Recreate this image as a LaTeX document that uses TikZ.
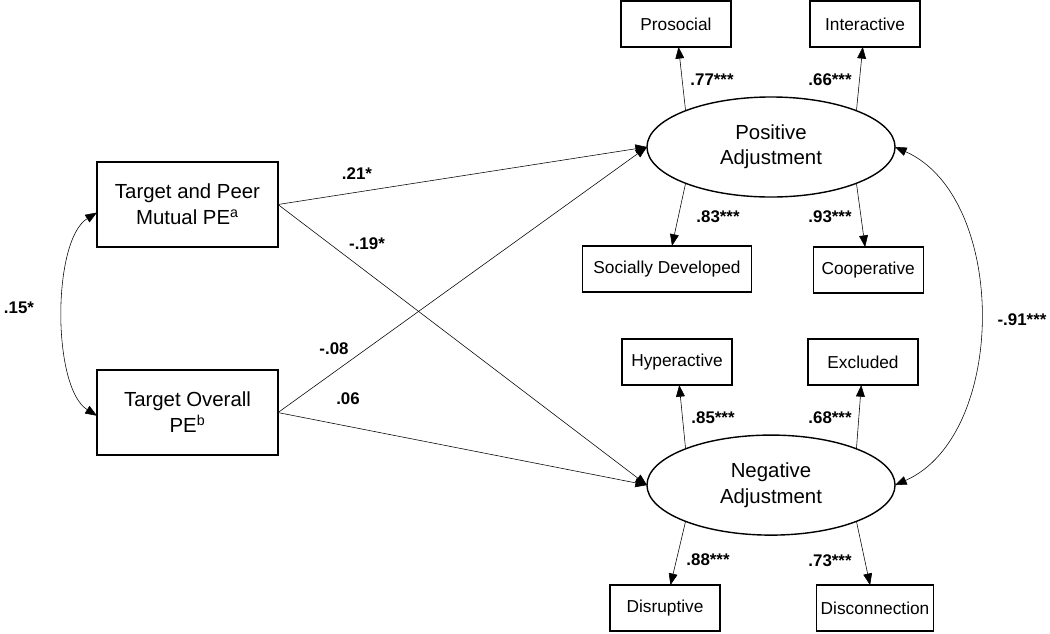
\documentclass[tikz,border=0pt]{standalone}
\usepackage{fontspec}
\setmainfont{Liberation Sans}
\usetikzlibrary{
  arrows.meta,      % filled triangle tips
  positioning,      % above=of, below=of
  shapes.geometric  % ellipses for the latent factors
}
\tikzset{
  node distance=1.25cm and 2cm,
  every node/.style = {
    rectangle,
    draw,
    line width=1pt,
    align=center,
    outer sep = 0pt,
    inner sep = 3pt
  },
  observed/.style = {minimum width=4.525cm, minimum height=2.125cm,
    font=\fontsize{14.5}{18.5}\selectfont},
  latent/.style = {ellipse, minimum width=6.2cm, minimum height=2.5cm,
    inner sep=0pt, font=\fontsize{14.5}{18}\selectfont},
  indicator/.style = {minimum width=2.75cm, minimum height=1.15cm,
    font=\fontsize{12.3}{14}\selectfont},
  coef/.style = {draw=none, inner sep=0pt,
    font=\bfseries\fontsize{12}{14}\selectfont},
  line width=0.75pt,
  ->,        % arrows for all
  >={Triangle[length=2.9mm,width=2.2mm]}
}

\begin{document}
\begin{tikzpicture}[x=0.025cm, y=-0.025cm]
  \useasboundingbox (0,0) rectangle (1050,633);

  %% predictors
  \node[observed] (TPM) at (187.5,204.5)   {Target and Peer\\Mutual PE\textsuperscript{a}};
  \node[observed] (TO)  [below=3.075cm of TPM] {Target Overall\\PE\textsuperscript{b}};

  %% latent factors
  \node[latent] (PA) at (771,147)      {Positive\\Adjustment};
  \node[latent] (NA) [below=5.95cm of PA] {Negative\\Adjustment};

  %% indicators
  \node[indicator] (Pro) [above=1.25cm of PA, xshift=-2.375cm] {Prosocial};
  \node[indicator] (Int) [above=1.25cm of PA, xshift=2.35cm]   {Interactive};
  \node[indicator, minimum width=4.225cm] (Soc) [below=1.22cm of PA, xshift=-2.6cm] {Socially Developed};
  \node[indicator] (Coo) [below=1.25cm of PA, xshift=2.43cm]   {Cooperative};

  \node[indicator] (Hyp) [above=1.25cm of NA, xshift=-2.35cm] {Hyperactive};
  \node[indicator] (Exc) [above=1.25cm of NA, xshift=2.3cm]   {Excluded};
  \node[indicator] (Dis) [below=1.25cm of NA, xshift=-2.65cm] {Disruptive};
  \node[indicator] (Dcn) [below=1.25cm of NA, xshift=2.6cm]   {Disconnection};

  %% arrows
  \draw (TPM.east) -- (PA.west);
  \draw (TPM.east) -- (NA.west);
  \draw (TO.east) -- (PA.west);
  \draw (TO.east) -- (NA.west);

  \draw (PA.157) -- (Pro);
  \draw (PA.23)  -- (Int);
  \draw (PA.203) -- (Soc);
  \draw (PA.337) -- (Coo);

  \draw (NA.157) -- (Hyp);
  \draw (NA.23)  -- (Exc);
  \draw (NA.203) -- (Dis);
  \draw (NA.337) -- (Dcn);

  % covariances
  \draw[<->] ([yshift=-0.2cm]TPM.west) .. controls +(-45,28) and +(-45,-28) .. ([yshift=-0.08cm]TO.west);
  \draw[<->] (PA.east) .. controls +(113,50) and +(113,-50) .. (NA.east);

  %% coefficients
  \node[coef] (c21) at (357,174) {.21*};
  \node[coef] (c19) at (367,244) {-.19*};
  \node[coef] (c08) at (334,349) {-.08};
  \node[coef] (c06) at (348,399) {.06};

  \node[coef] (c77) at (712,80)  {.77***};
  \node[coef] (c66) at (830,80)  {.66***};
  \node[coef] (c83) at (718,217) {.83***};
  \node[coef] (c93) at (830,217) {.93***};

  \node[coef] (c85) at (713,418) {.85***};
  \node[coef] (c68) at (830,418) {.68***};
  \node[coef] (c88) at (708,560) {.88***};
  \node[coef] (c73) at (830,561) {.73***};

  \node[coef] (c15) at (19,308)   {.15*};
  \node[coef] (c91) at (1022,320) {-.91***};

\end{tikzpicture}
\end{document}
